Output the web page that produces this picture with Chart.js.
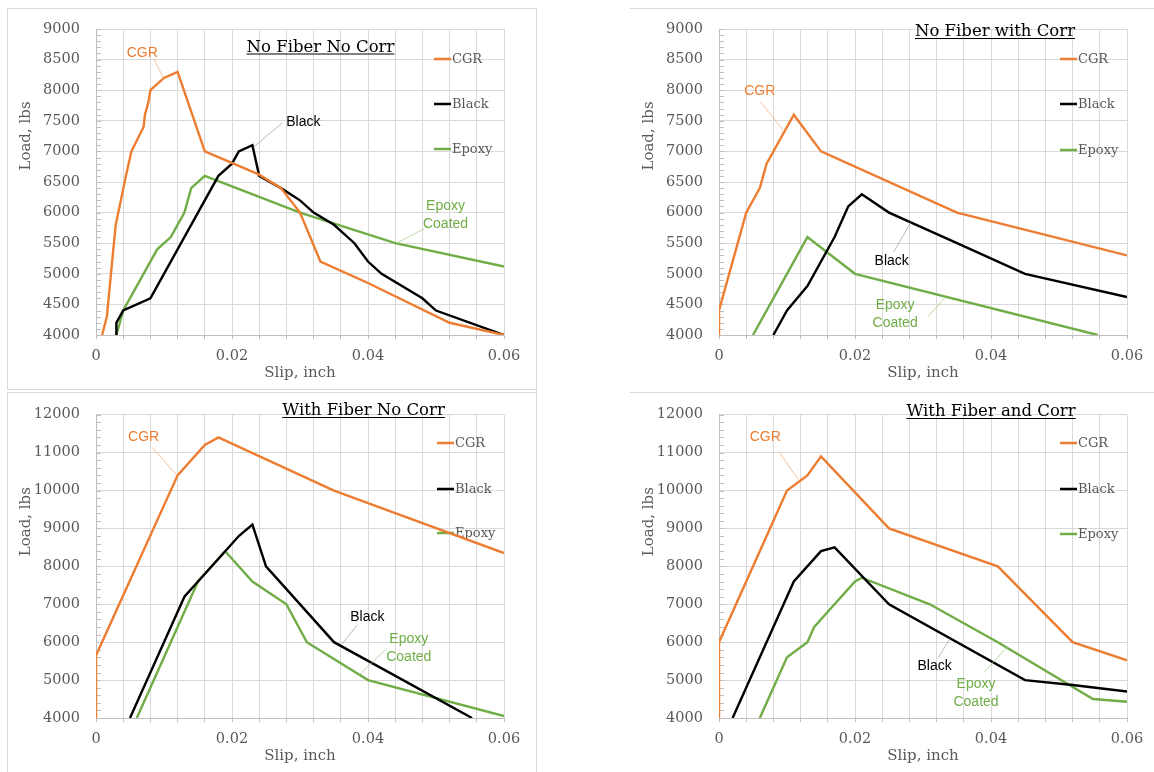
<!DOCTYPE html>
<html>
<head>
<meta charset="utf-8">
<title>Load vs Slip</title>
<script src="https://cdn.jsdelivr.net/npm/chart.js@4.4.0/dist/chart.umd.min.js"></script>
<style>
  body { margin: 0; background: #fff; }
  #page { position: relative; width: 1154px; height: 772px; overflow: hidden; background: #fff; }
  canvas { position: absolute; }
  .line { position: absolute; background: #d9d9d9; }
</style>
</head>
<body>
<div id="page">
  <div class="line" style="left:7px;top:8px;width:530px;height:1px;"></div>
  <div class="line" style="left:7px;top:8px;width:1px;height:382px;"></div>
  <div class="line" style="left:536px;top:8px;width:1px;height:764px;"></div>
  <div class="line" style="left:7px;top:389px;width:530px;height:1px;"></div>
  <div class="line" style="left:7px;top:392px;width:530px;height:1px;"></div>
  <div class="line" style="left:7px;top:392px;width:1px;height:380px;"></div>
  <div class="line" style="left:630px;top:8px;width:524px;height:1px;"></div>
  <div class="line" style="left:630px;top:392px;width:524px;height:1px;"></div>
  <canvas id="c1" width="577" height="390" style="left:0;top:0"></canvas>
  <canvas id="c2" width="577" height="390" style="left:577px;top:0"></canvas>
  <canvas id="c3" width="577" height="382" style="left:0;top:390px"></canvas>
  <canvas id="c4" width="577" height="382" style="left:577px;top:390px"></canvas>
</div>
<script>
// tick values
const slipTicks = [0, 0.004, 0.008, 0.012, 0.016, 0.02, 0.024, 0.028, 0.032, 0.036, 0.04, 0.044, 0.048, 0.052, 0.056, 0.06];
const slipLabeled = [0, 0.02, 0.04, 0.06];
const loadTicksNoFiber = [4000, 4500, 5000, 5500, 6000, 6500, 7000, 7500, 8000, 8500, 9000];
const loadTicksFiber = [4000, 5000, 6000, 7000, 8000, 9000, 10000, 11000, 12000];

// No Fiber No Corr
const nfncCgrSlip = [0.0009, 0.0016, 0.0022, 0.0029, 0.0044, 0.0052, 0.0070, 0.0072, 0.0077, 0.0080, 0.0100, 0.0120, 0.0160, 0.0240, 0.0272, 0.0300, 0.0330, 0.0400, 0.0520, 0.0600];
const nfncCgrLoad = [4000, 4300, 5000, 5800, 6600, 7000, 7400, 7600, 7800, 8000, 8200, 8300, 7000, 6620, 6400, 6000, 5200, 4850, 4200, 4000];
const nfncBlackSlip = [0.0030, 0.0030, 0.0040, 0.0080, 0.0180, 0.0200, 0.0210, 0.0230, 0.0240, 0.0272, 0.0300, 0.0320, 0.0350, 0.0380, 0.0400, 0.0420, 0.0480, 0.0500, 0.0600];
const nfncBlackLoad = [4000, 4200, 4400, 4600, 6600, 6800, 7000, 7100, 6600, 6400, 6200, 6000, 5800, 5500, 5200, 5000, 4600, 4400, 4000];
const nfncEpoxySlip = [0.0030, 0.0040, 0.0090, 0.0110, 0.0130, 0.0140, 0.0160, 0.0300, 0.0440, 0.0600];
const nfncEpoxyLoad = [4000, 4400, 5400, 5600, 6000, 6400, 6600, 6000, 5500, 5120];

// No Fiber with Corr
const nfwcCgrSlip = [0, 0, 0.004, 0.006, 0.007, 0.011, 0.015, 0.035, 0.060];
const nfwcCgrLoad = [4000, 4400, 6000, 6400, 6800, 7600, 7000, 6000, 5300];
const nfwcBlackSlip = [0.008, 0.010, 0.013, 0.017, 0.019, 0.021, 0.025, 0.035, 0.045, 0.060];
const nfwcBlackLoad = [4000, 4400, 4800, 5600, 6100, 6300, 6000, 5500, 5000, 4620];
const nfwcEpoxySlip = [0.005, 0.013, 0.020, 0.0557];
const nfwcEpoxyLoad = [4000, 5600, 5000, 4000];

// With Fiber No Corr
const wfncCgrSlip = [0, 0, 0.012, 0.016, 0.018, 0.035, 0.060];
const wfncCgrLoad = [4000, 5650, 10400, 11200, 11400, 10000, 8350];
const wfncBlackSlip = [0.005, 0.013, 0.015, 0.019, 0.021, 0.023, 0.025, 0.035, 0.0553];
const wfncBlackLoad = [4000, 7200, 7600, 8400, 8800, 9100, 8000, 6000, 4000];
const wfncEpoxySlip = [0.006, 0.015, 0.019, 0.023, 0.028, 0.031, 0.040, 0.060];
const wfncEpoxyLoad = [4000, 7600, 8400, 7600, 7000, 6000, 5000, 4050];

// With Fiber and Corr
const wfacCgrSlip = [0, 0, 0.010, 0.013, 0.015, 0.025, 0.041, 0.052, 0.060];
const wfacCgrLoad = [4000, 6000, 10000, 10400, 10900, 9000, 8000, 6000, 5520];
const wfacBlackSlip = [0.002, 0.011, 0.015, 0.017, 0.025, 0.045, 0.052, 0.060];
const wfacBlackLoad = [4000, 7600, 8400, 8500, 7000, 5000, 4870, 4700];
const wfacEpoxySlip = [0.006, 0.010, 0.013, 0.014, 0.020, 0.021, 0.031, 0.041, 0.055, 0.060];
const wfacEpoxyLoad = [4000, 5600, 6000, 6400, 7600, 7700, 7000, 6000, 4500, 4430];

const seriesNames = ['CGR', 'Black', 'Epoxy'];
const seriesColors = ['#ED7D31', '#000000', '#70AD47'];
const leaderColors = ['#F4B183', '#A6A6A6', '#A9D18E'];
const axisGray = '#595959';
const serif = "'DejaVu Serif', serif";

function pts(xs, ys) {
    return xs.map((x, i) => ({ x: x, y: ys[i] }));
}

// draws titles, legend, axis titles, minor ticks and the callout labels
const panelDecor = {
    id: 'panelDecor',
    beforeDatasetsDraw(chart, args, p) {
        const ctx = chart.ctx;
        const area = chart.chartArea;
        const ys = chart.scales.y;
        ctx.save();
        // minor ticks on the load axis
        ctx.strokeStyle = '#BFBFBF';
        ctx.lineWidth = 1;
        for (let v = p.yMin; v <= p.yMax; v += p.minorStep) {
            const y = Math.round(ys.getPixelForValue(v)) + 0.5;
            ctx.beginPath();
            ctx.moveTo(area.left, y);
            ctx.lineTo(area.left + 5, y);
            ctx.stroke();
        }
        // legend
        ctx.font = '13px ' + serif;
        ctx.textBaseline = 'middle';
        ctx.textAlign = 'left';
        seriesNames.forEach((name, i) => {
            const y = p.legendY[i];
            ctx.strokeStyle = seriesColors[i];
            ctx.lineWidth = 2.5;
            ctx.beginPath();
            ctx.moveTo(p.legendX, y);
            ctx.lineTo(p.legendX + 17, y);
            ctx.stroke();
            ctx.fillStyle = axisGray;
            ctx.fillText(name, p.legendX + 18, y + 1);
        });
        ctx.restore();
    },
    afterDraw(chart, args, p) {
        const ctx = chart.ctx;
        const area = chart.chartArea;
        const xs = chart.scales.x;
        const ys = chart.scales.y;
        ctx.save();
        // title, underlined
        ctx.font = '16.5px ' + serif;
        ctx.fillStyle = '#000';
        ctx.textAlign = 'center';
        ctx.textBaseline = 'alphabetic';
        ctx.fillText(p.title, p.titleX, p.titleY);
        const w = ctx.measureText(p.title).width;
        ctx.strokeStyle = '#000';
        ctx.lineWidth = 1;
        ctx.beginPath();
        ctx.moveTo(p.titleX - w / 2, p.titleY + 2.5);
        ctx.lineTo(p.titleX + w / 2, p.titleY + 2.5);
        ctx.stroke();

        // axis titles
        ctx.font = '15px ' + serif;
        ctx.fillStyle = axisGray;
        ctx.textBaseline = 'middle';
        ctx.fillText('Slip, inch', (area.left + area.right) / 2, area.bottom + 38);
        ctx.save();
        ctx.translate(area.left - 70, area.top + 107);
        ctx.rotate(-Math.PI / 2);
        ctx.fillText('Load, lbs', 0, 0);
        ctx.restore();

        // callouts
        ctx.font = "14px 'Liberation Sans', sans-serif";
        p.notes.forEach((n) => {
            const i = seriesNames.indexOf(n.series);
            ctx.strokeStyle = leaderColors[i];
            ctx.lineWidth = 0.8;
            ctx.beginPath();
            ctx.moveTo(xs.getPixelForValue(n.from[0]), ys.getPixelForValue(n.from[1]));
            ctx.lineTo(xs.getPixelForValue(n.to[0]), ys.getPixelForValue(n.to[1]));
            ctx.stroke();
            ctx.fillStyle = n.series === 'Black' ? '#000' : seriesColors[i];
            const tx = xs.getPixelForValue(n.at[0]);
            const ty = ys.getPixelForValue(n.at[1]);
            n.text.forEach((t, k) => ctx.fillText(t, tx, ty + k * 18));
        });
        ctx.restore();
    }
};

function makePanel(p) {
    const datasets = p.series.map((s, i) => ({
        label: seriesNames[i],
        data: pts(s[0], s[1]),
        showLine: true,
        borderColor: seriesColors[i],
        backgroundColor: seriesColors[i],
        borderWidth: 2.4,
        pointRadius: 0,
        tension: 0
    }));
    new Chart(document.getElementById(p.canvas), {
        type: 'scatter',
        data: { datasets: datasets },
        options: {
            responsive: false,
            animation: false,
            events: [],
            layout: { padding: { left: p.padLeft, right: p.padRight, top: p.padTop, bottom: 0 } },
            plugins: {
                legend: { display: false },
                tooltip: { enabled: false },
                panelDecor: p
            },
            scales: {
                x: {
                    type: 'linear',
                    min: 0,
                    max: 0.06,
                    afterBuildTicks: (scale) => { scale.ticks = slipTicks.map(v => ({ value: v })); },
                    afterFit: (scale) => { scale.height = p.xHeight; },
                    ticks: {
                        autoSkip: false,
                        maxRotation: 0,
                        padding: 9,
                        color: axisGray,
                        font: { family: serif, size: 14.5 },
                        callback: (v) => slipLabeled.some(t => Math.abs(t - v) < 1e-9) ? String(Math.round(v * 100) / 100) : ''
                    },
                    grid: { color: '#D9D9D9', tickColor: '#BFBFBF', tickLength: 4 },
                    border: { color: '#BFBFBF' }
                },
                y: {
                    type: 'linear',
                    min: p.yMin,
                    max: p.yMax,
                    afterBuildTicks: (scale) => { scale.ticks = p.yTicks.map(v => ({ value: v })); },
                    afterFit: (scale) => { scale.width = 96; },
                    ticks: {
                        padding: 16,
                        color: axisGray,
                        font: { family: serif, size: 14.5 },
                        callback: (v) => String(v)
                    },
                    grid: { color: '#D9D9D9', drawTicks: false },
                    border: { color: '#BFBFBF' }
                }
            }
        },
        plugins: [panelDecor]
    });
}

document.addEventListener('DOMContentLoaded', function() {
    makePanel({
        canvas: 'c1', title: 'No Fiber No Corr', titleX: 320.5, titleY: 51.5,
        padLeft: 0, padRight: 73, padTop: 29, xHeight: 55,
        yMin: 4000, yMax: 9000, yTicks: loadTicksNoFiber, minorStep: 100,
        legendX: 434, legendY: [59, 104, 149],
        series: [[nfncCgrSlip, nfncCgrLoad], [nfncBlackSlip, nfncBlackLoad], [nfncEpoxySlip, nfncEpoxyLoad]],
        notes: [
            { series: 'CGR', text: ['CGR'], at: [0.0068, 8612], from: [0.0085, 8514], to: [0.0099, 8203] },
            { series: 'Black', text: ['Black'], at: [0.0305, 7482], from: [0.0274, 7466], to: [0.0232, 7074] },
            { series: 'Epoxy', text: ['Epoxy', 'Coated'], at: [0.0514, 6110], from: [0.0482, 5734], to: [0.0443, 5505] }
        ]
    });
    makePanel({
        canvas: 'c2', title: 'No Fiber with Corr', titleX: 418, titleY: 36,
        padLeft: 46, padRight: 27, padTop: 29, xHeight: 55,
        yMin: 4000, yMax: 9000, yTicks: loadTicksNoFiber, minorStep: 100,
        legendX: 483, legendY: [59, 104, 150],
        series: [[nfwcCgrSlip, nfwcCgrLoad], [nfwcBlackSlip, nfwcBlackLoad], [nfwcEpoxySlip, nfwcEpoxyLoad]],
        notes: [
            { series: 'CGR', text: ['CGR'], at: [0.0060, 7991], from: [0.0061, 7811], to: [0.0094, 7350] },
            { series: 'Black', text: ['Black'], at: [0.0254, 5212], from: [0.0257, 5360], to: [0.0282, 5840] },
            { series: 'Epoxy', text: ['Epoxy', 'Coated'], at: [0.0259, 4491], from: [0.0307, 4295], to: [0.0333, 4620] }
        ]
    });
    makePanel({
        canvas: 'c3', title: 'With Fiber No Corr', titleX: 363.5, titleY: 25,
        padLeft: 0, padRight: 73, padTop: 24, xHeight: 54,
        yMin: 4000, yMax: 12000, yTicks: loadTicksFiber, minorStep: 200,
        legendX: 437, legendY: [53, 99, 143],
        series: [[wfncCgrSlip, wfncCgrLoad], [wfncBlackSlip, wfncBlackLoad], [wfncEpoxySlip, wfncEpoxyLoad]],
        notes: [
            { series: 'CGR', text: ['CGR'], at: [0.0070, 11395], from: [0.0083, 11132], to: [0.0119, 10400] },
            { series: 'Black', text: ['Black'], at: [0.0399, 6658], from: [0.0384, 6447], to: [0.0361, 5940] },
            { series: 'Epoxy', text: ['Epoxy', 'Coated'], at: [0.0460, 6079], from: [0.0428, 5842], to: [0.0387, 5140] }
        ]
    });
    makePanel({
        canvas: 'c4', title: 'With Fiber and Corr', titleX: 414, titleY: 26,
        padLeft: 46, padRight: 27, padTop: 24, xHeight: 54,
        yMin: 4000, yMax: 12000, yTicks: loadTicksFiber, minorStep: 200,
        legendX: 483, legendY: [53, 99, 144],
        series: [[wfacCgrSlip, wfacCgrLoad], [wfacBlackSlip, wfacBlackLoad], [wfacEpoxySlip, wfacEpoxyLoad]],
        notes: [
            { series: 'CGR', text: ['CGR'], at: [0.0068, 11395], from: [0.0089, 11000], to: [0.0118, 10250] },
            { series: 'Black', text: ['Black'], at: [0.0317, 5368], from: [0.0323, 5605], to: [0.0340, 6100] },
            { series: 'Epoxy', text: ['Epoxy', 'Coated'], at: [0.0378, 4895], from: [0.0390, 5210], to: [0.0423, 5860] }
        ]
    });
});
</script>
</body>
</html>
